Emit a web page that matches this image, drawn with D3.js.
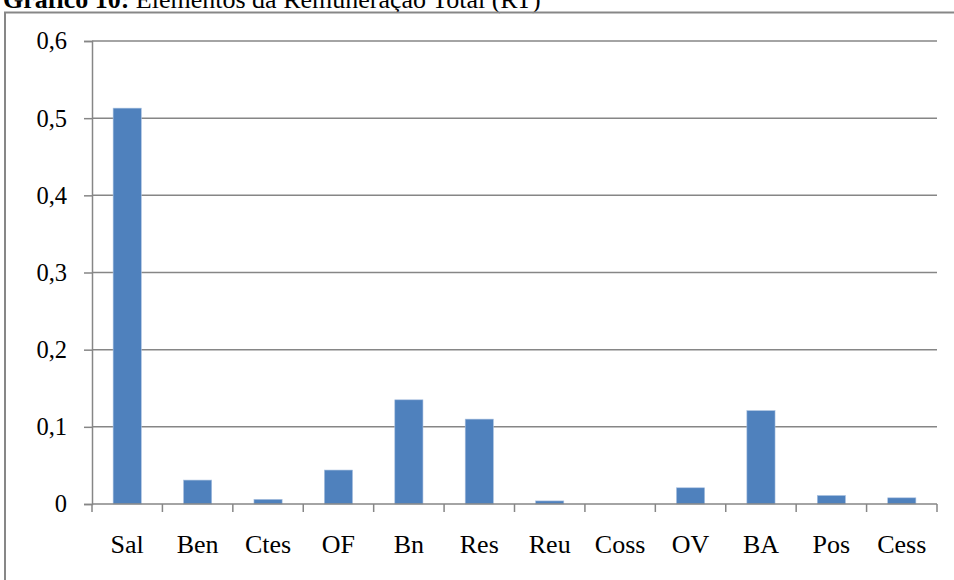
<!DOCTYPE html>
<html>
<head>
<meta charset="utf-8">
<script src="https://cdn.jsdelivr.net/npm/d3@7"></script>
<style>
  body { margin: 0; background: #fff; }
  text { font-family: "Liberation Serif", "Times New Roman", serif; fill: #000; }
</style>
</head>
<body>
<div id="chart"></div>
<script>
// categories and shares of Remuneração Total
var categories = ["Sal", "Ben", "Ctes", "OF", "Bn", "Res", "Reu", "Coss", "OV", "BA", "Pos", "Cess"];
var values = [0.513, 0.031, 0.006, 0.044, 0.135, 0.110, 0.004, 0, 0.021, 0.121, 0.011, 0.008];
var yTicks = [0, 0.1, 0.2, 0.3, 0.4, 0.5, 0.6];

var width = 954, height = 580;
var plot = {left: 92, right: 937, top: 41, bottom: 504};

var svg = d3.select("#chart").append("svg")
    .attr("width", width)
    .attr("height", height);

// title (partly cut off at the top, like the source)
var title = svg.append("text").attr("x", 3).attr("y", 8).attr("font-size", 26);
title.append("tspan").attr("font-weight", "bold").text("Gráfico 10:");
title.append("tspan").text(" Elementos da Remuneração Total (RT)");

// outer frame
svg.append("rect")
    .attr("x", 5).attr("y", 12.5)
    .attr("width", 960).attr("height", 600)
    .attr("fill", "none")
    .attr("stroke", "#878787")
    .attr("stroke-width", 2);

var x = d3.scaleBand().domain(categories).range([plot.left, plot.right]);
var y = d3.scaleLinear().domain([0, 0.6]).range([plot.bottom, plot.top]);

// gridlines
svg.append("g").selectAll("line")
    .data(yTicks.filter(function(d) { return d > 0; }))
    .enter().append("line")
    .attr("x1", plot.left).attr("x2", plot.right)
    .attr("y1", function(d) { return y(d); })
    .attr("y2", function(d) { return y(d); })
    .attr("stroke", "#868686")
    .attr("stroke-width", 1.5);

// y axis
var yAxis = d3.axisLeft(y).tickValues(yTicks).tickSize(8).tickPadding(17)
    .tickFormat(function(d) { return d3.format(".1f")(d).replace(".", ",").replace(/^0,0$/, "0"); });
var gy = svg.append("g").attr("transform", "translate(" + plot.left + ",0)").call(yAxis);
gy.select(".domain").attr("stroke", "#868686").attr("stroke-width", 1.5);
gy.selectAll(".tick line").attr("stroke", "#868686").attr("stroke-width", 1.5);
gy.selectAll(".tick text").attr("font-size", 24.5).attr("font-family", "Liberation Serif, serif").attr("fill", "#000");

// bars
var barW = x.bandwidth() * 0.4;
svg.append("g").selectAll("rect")
    .data(values)
    .enter().append("rect")
    .attr("x", function(d, i) { return x(categories[i]) + x.bandwidth() / 2 - barW / 2; })
    .attr("y", function(d) { return y(d); })
    .attr("width", barW)
    .attr("height", function(d) { return y(0) - y(d); })
    .attr("fill", "#4f81bd")
    .attr("stroke", "#a9c1e0")
    .attr("stroke-width", 0.6);

// x axis with ticks at category boundaries
var bounds = categories.map(function(c) { return x(c); }).concat([plot.right]);
var gx = svg.append("g");
gx.append("line")
    .attr("x1", plot.left).attr("x2", plot.right)
    .attr("y1", y(0)).attr("y2", y(0))
    .attr("stroke", "#868686").attr("stroke-width", 1.5);
gx.selectAll("line.tk").data(bounds).enter().append("line")
    .attr("class", "tk")
    .attr("x1", function(d) { return d; }).attr("x2", function(d) { return d; })
    .attr("y1", y(0)).attr("y2", y(0) + 8)
    .attr("stroke", "#868686").attr("stroke-width", 1.5);
gx.selectAll("text").data(categories).enter().append("text")
    .attr("x", function(d) { return x(d) + x.bandwidth() / 2; })
    .attr("y", 553)
    .attr("text-anchor", "middle")
    .attr("font-size", 26)
    .text(function(d) { return d; });
</script>
</body>
</html>
